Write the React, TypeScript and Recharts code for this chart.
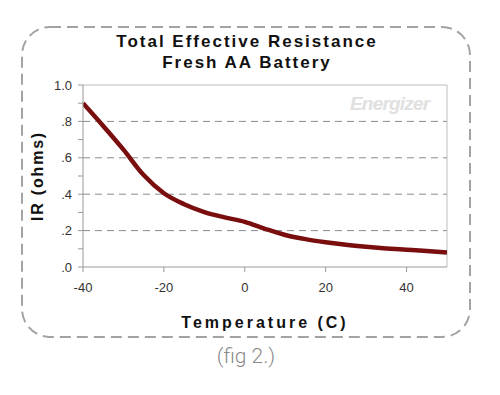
import { LineChart, Line, XAxis, YAxis, ReferenceLine } from "recharts";

const temps = [-40, -35, -30, -25, -20, -15, -10, -5, 0, 5, 10, 15, 20, 25, 30, 35, 40, 45, 50];
const resistance = [
  0.9, 0.775, 0.645, 0.505, 0.405, 0.345, 0.302, 0.273, 0.248, 0.21, 0.176, 0.153, 0.136,
  0.122, 0.111, 0.102, 0.095, 0.088, 0.079,
];
const xTicks = [-40, -20, 0, 20, 40];
const yTicks = [0, 0.1, 0.2, 0.3, 0.4, 0.5, 0.6, 0.7, 0.8, 0.9, 1.0];
const gridValues = [0.2, 0.4, 0.6, 0.8];

const data = temps.map((t, i) => ({ temp: t, ir: resistance[i] }));

function formatY(v: number): string {
  const n = Math.round(v * 10);
  if (n % 2 !== 0) return "";
  if (n === 10) return "1.0";
  return "." + n;
}

const FONT = "Arial, 'Liberation Sans', sans-serif";

export default function App() {
  return (
    <div
      style={{
        position: "absolute",
        left: 0,
        top: 0,
        width: 500,
        height: 395,
        background: "#fff",
        fontFamily: FONT,
      }}
    >
      <svg width={500} height={395} style={{ position: "absolute", left: 0, top: 0 }}>
        <rect
          x={22}
          y={27}
          width={448}
          height={310}
          rx={28}
          ry={28}
          fill="none"
          stroke="#a3a3a3"
          strokeWidth={2}
          strokeDasharray="11 6"
        />
      </svg>
      <div
        style={{
          position: "absolute",
          left: 22,
          width: 450,
          top: 31,
          textAlign: "center",
          fontWeight: 700,
          fontSize: 17,
          lineHeight: "21px",
          letterSpacing: 2,
          color: "#111",
        }}
      >
        Total Effective Resistance
        <br />
        Fresh AA Battery
      </div>
      <div
        style={{
          position: "absolute",
          left: 350,
          top: 93,
          fontFamily: "'Liberation Sans Narrow', 'Arial Narrow', sans-serif",
          fontStyle: "italic",
          fontWeight: 700,
          fontSize: 19,
          color: "#e0e0e0",
          letterSpacing: -0.8,
        }}
      >
        Energizer
      </div>
      <div style={{ position: "absolute", left: 0, top: 0 }}>
        <LineChart
          width={500}
          height={395}
          data={data}
          margin={{ top: 85, right: 53, bottom: 58, left: 0 }}
        >
          <XAxis
            dataKey="temp"
            type="number"
            domain={[-40, 50]}
            ticks={xTicks}
            allowDataOverflow
            stroke="#999"
            tickSize={5}
            tickMargin={11}
            height={70}
            tick={{ fontSize: 13, fill: "#333", fontFamily: FONT }}
            label={{
              value: "Temperature (C)",
              position: "insideBottom",
              offset: 9,
              style: {
                fontSize: 16,
                fontWeight: 700,
                letterSpacing: 3,
                fill: "#111",
                fontFamily: FONT,
              },
            }}
          />
          <YAxis
            type="number"
            domain={[0, 1]}
            ticks={yTicks}
            interval={0}
            tickFormatter={formatY}
            stroke="#999"
            tickSize={5}
            tickMargin={6}
            width={83}
            tick={{ fontSize: 13, fill: "#333", fontFamily: FONT }}
            label={{
              value: "IR (ohms)",
              angle: -90,
              position: "center",
              dx: -4,
              style: {
                fontSize: 16,
                fontWeight: 700,
                letterSpacing: 1.8,
                fill: "#111",
                fontFamily: FONT,
              },
            }}
          />
          {gridValues.map((v) => (
            <ReferenceLine key={v} y={v} stroke="#8a8a8a" strokeDasharray="7 5" />
          ))}
          <ReferenceLine y={1} stroke="#bdbdbd" />
          <ReferenceLine x={50} stroke="#bdbdbd" />
          <Line
            type="monotone"
            dataKey="ir"
            stroke="#7a0e0e"
            strokeWidth={4.5}
            dot={false}
            isAnimationActive={false}
          />
        </LineChart>
      </div>
      <div
        style={{
          position: "absolute",
          left: 0,
          width: 492,
          top: 344,
          textAlign: "center",
          fontFamily: "Roboto, sans-serif",
          fontWeight: 300,
          fontSize: 21,
          color: "#8a8a8a",
        }}
      >
        (fig 2.)
      </div>
    </div>
  );
}
